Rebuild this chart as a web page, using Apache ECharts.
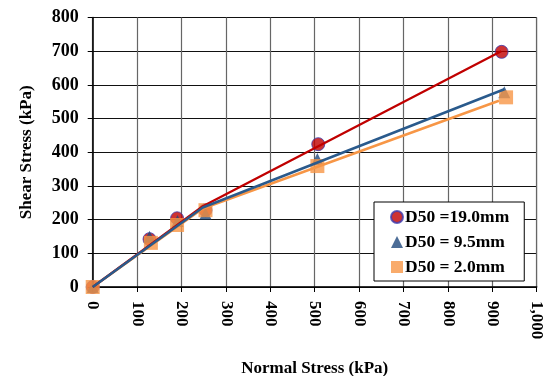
<!DOCTYPE html>
<html><head><meta charset="utf-8">
<script src="https://cdn.jsdelivr.net/npm/echarts@6/dist/echarts.min.js"></script>
<style>html,body{margin:0;padding:0;background:#fff}#c{width:543px;height:376px}</style>
</head><body><div id="c"></div>
<script>
// Data
const seriesNames = ['D50 =19.0mm', 'D50 = 9.5mm', 'D50 = 2.0mm'];
const d19Points = [[0, 0], [128, 142], [190, 204], [254, 228], [508, 424], [921, 698]];
const d95Points = [[0, 0], [128, 149], [191, 196], [254, 218], [506, 380], [927, 578]];
const d20Points = [[0, 0], [131, 131], [190, 184], [254, 228], [506, 359], [931, 563]];
const d19Fit = [[0, 0], [248, 240], [920, 700]];
const d95Fit = [[0, 0], [248, 236], [927, 587]];
const d20Fit = [[0, 0], [248, 233], [915, 553]];
const xTicks = {min: 0, max: 1000, interval: 100};
const yTicks = {min: 0, max: 800, interval: 100};

const font = "'Liberation Serif', 'Times New Roman', serif";
const red = '#C00000', blue = '#2A5A8C', orange = '#F79646';

const chart = echarts.init(document.getElementById('c'));
chart.setOption({
  animation: false,
  backgroundColor: '#fff',
  grid: {left: 92.7, right: 6.3, top: 17.5, bottom: 89, containLabel: false, outerBoundsMode: 'none',
         show: true, borderColor: '#888', borderWidth: 1},
  legend: {
    left: 374, top: 202, orient: 'vertical',
    data: [
      {name: seriesNames[0], icon: 'circle'},
      {name: seriesNames[1], icon: 'triangle'},
      {name: seriesNames[2], icon: 'rect'}
    ],
    backgroundColor: '#fff', borderColor: '#000', borderWidth: 1,
    padding: [6, 15, 5, 16], itemGap: 7, itemWidth: 12, itemHeight: 12,
    textStyle: {fontFamily: font, fontWeight: 'bold', fontSize: 17.5, color: '#000', padding: [0, 0, 0, -3]}
  },
  xAxis: {
    type: 'value', min: xTicks.min, max: xTicks.max, interval: xTicks.interval,
    name: 'Normal Stress (kPa)', nameLocation: 'middle', nameGap: 73, nameMoveOverlap: false,
    nameTextStyle: {fontFamily: font, fontWeight: 'bold', fontSize: 17, color: '#000'},
    axisLine: {show: true, lineStyle: {color: '#000', width: 1.5}},
    axisTick: {show: true, length: 5, lineStyle: {color: '#000'}},
    axisLabel: {rotate: -90, margin: 14, fontFamily: font, fontWeight: 'bold', fontSize: 17, color: '#000',
      formatter: v => v.toLocaleString('en-US')},
    splitLine: {show: true, lineStyle: {color: '#666', width: 1.2}}
  },
  yAxis: {
    type: 'value', min: yTicks.min, max: yTicks.max, interval: yTicks.interval,
    name: 'Shear Stress (kPa)', nameLocation: 'middle', nameGap: 58, nameMoveOverlap: false,
    nameTextStyle: {fontFamily: font, fontWeight: 'bold', fontSize: 17, color: '#000'},
    axisLine: {show: true, lineStyle: {color: '#000', width: 1.5}},
    axisTick: {show: true, length: 5, lineStyle: {color: '#000'}},
    axisLabel: {margin: 14, fontFamily: font, fontWeight: 'bold', fontSize: 18, color: '#000'},
    splitLine: {show: true, lineStyle: {color: '#111', width: 1.2}}
  },
  series: [
    {name: seriesNames[0], type: 'scatter', data: d19Points, symbol: 'circle', symbolSize: 13, z: 2,
     itemStyle: {color: red, borderColor: '#3b3bb0', borderWidth: 1}},
    {name: seriesNames[1], type: 'scatter', data: d95Points, symbol: 'triangle', symbolSize: 12, z: 3,
     itemStyle: {color: '#1F497D'}},
    {name: seriesNames[2], type: 'scatter', data: d20Points, symbol: 'rect', symbolSize: 14, z: 4,
     itemStyle: {color: orange}},
    {name: 'fit19', type: 'line', data: d19Fit, showSymbol: false, symbol: 'none', z: 6,
     lineStyle: {color: red, width: 2.3}},
    {name: 'fit95', type: 'line', data: d95Fit, showSymbol: false, symbol: 'none', z: 7,
     lineStyle: {color: blue, width: 2.5}},
    {name: 'fit20', type: 'line', data: d20Fit, showSymbol: false, symbol: 'none', z: 5,
     lineStyle: {color: orange, width: 2.5}}
  ]
});
</script></body></html>
